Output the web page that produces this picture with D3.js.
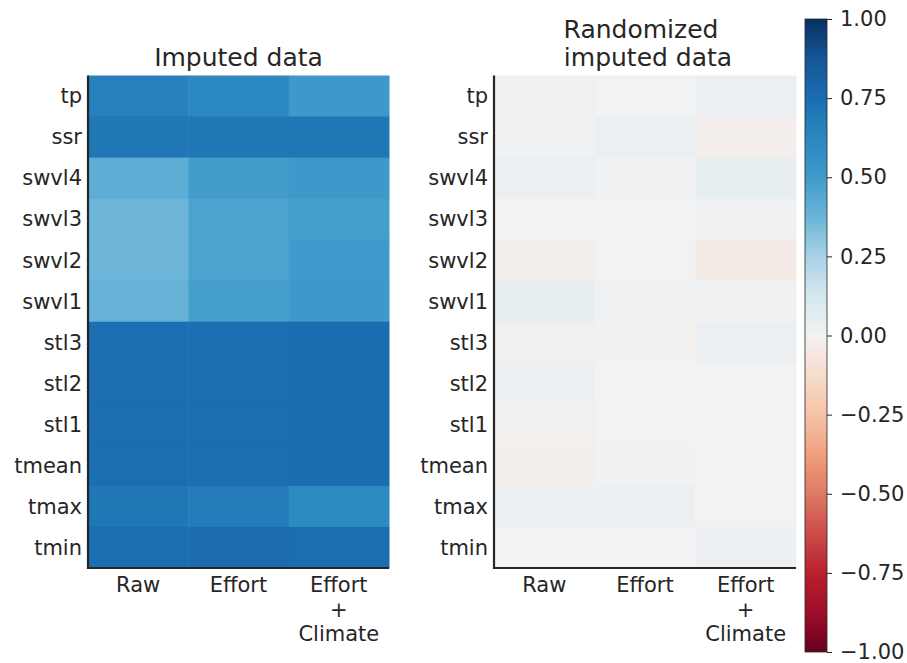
<!DOCTYPE html>
<html><head><meta charset="utf-8">
<script src="https://cdn.jsdelivr.net/npm/d3@7"></script>
<style>body{margin:0;background:#fff}text{font-family:"DejaVu Sans",sans-serif;fill:#262626}</style>
</head><body><svg id="c" width="907" height="663"></svg>
<script>
const rows = ["tp","ssr","swvl4","swvl3","swvl2","swvl1","stl3","stl2","stl1","tmean","tmax","tmin"];
const cols = ["Raw","Effort","Effort\n+\nClimate"];
// Imputed data (per column)
const impRaw    = [0.66,0.70,0.41,0.37,0.37,0.39,0.745,0.745,0.745,0.745,0.70,0.745];
const impEffort = [0.62,0.70,0.49,0.46,0.46,0.48,0.745,0.745,0.745,0.745,0.68,0.755];
const impEC     = [0.51,0.70,0.51,0.48,0.50,0.51,0.75,0.75,0.75,0.75,0.60,0.745];
// Randomized imputed data (per column)
const rndRaw    = [-0.01,0.01,0.03,0.00,-0.02,0.05,-0.01,0.02,-0.01,-0.02,0.02,0.00];
const rndEffort = [0.00,0.03,0.01,0.00,0.00,0.01,-0.005,0.00,0.00,0.01,0.03,0.00];
const rndEC     = [0.03,-0.02,0.05,0.01,-0.04,0.01,0.03,0.00,0.00,0.00,0.00,0.02];
const cbTicks = [1,0.75,0.5,0.25,0,-0.25,-0.5,-0.75,-1];
// diverging palette (red -> blue), sampled from the reference colour bar
const palette = ["#67001f","#a00c2b","#b9202f","#cc4c4a","#de7a63","#efa07f","#f6c3a6","#f7dccb","#f2f2f2",
                 "#d5e7f0","#a8d2e6","#6bb4d8","#3e9bcb","#2a87c0","#1a6db0","#175597","#053061"];

const svg = d3.select("#c");
const stops = palette.map((_,i)=>-1+i*2/(palette.length-1));
const color = d3.scaleLinear().domain(stops).range(palette).interpolate(d3.interpolateRgb).clamp(true);

function panel(x0, x1, dataCols, titleLines){
  const x = d3.scaleBand().domain(cols).range([x0,x1]);
  const y = d3.scaleBand().domain(rows).range([75.5,568]);
  const g = svg.append("g");
  const cells = [];
  cols.forEach((c,ci)=>rows.forEach((r,ri)=>cells.push({c,r,v:dataCols[ci][ri]})));
  g.selectAll("rect").data(cells).join("rect")
    .attr("x",d=>x(d.c)).attr("y",d=>y(d.r))
    .attr("width",x.bandwidth()+0.5).attr("height",y.bandwidth()+0.5)
    .attr("fill",d=>color(d.v));
  g.selectAll("text.yl").data(rows).join("text").attr("class","yl")
    .attr("x",x0-6).attr("y",r=>y(r)+y.bandwidth()/2).attr("dy","0.35em")
    .attr("text-anchor","end").style("font-size","21px").text(r=>r);
  cols.forEach(c=>{
    const t = g.append("text").attr("text-anchor","middle").style("font-size","21px");
    c.split("\n").forEach((ln,i)=>t.append("tspan").attr("x",x(c)+x.bandwidth()/2).attr("y",592+i*24.5).text(ln));
  });
  g.append("line").attr("x1",x0).attr("x2",x0).attr("y1",75.5).attr("y2",569).attr("stroke","#262626").attr("stroke-width",2.2);
  g.append("line").attr("x1",x0-1).attr("x2",x1).attr("y1",568).attr("y2",568).attr("stroke","#262626").attr("stroke-width",2.2);
  const cx = (x0+x1)/2;
  const n = titleLines.length;
  titleLines.forEach((ln,i)=>g.append("text").attr("x",cx+(n>1?(i===0?-4:3):0)).attr("y",66-(n-1-i)*28)
    .attr("text-anchor","middle").style("font-size","25px").text(ln));
}
panel(88,389,[impRaw,impEffort,impEC],["Imputed data"]);
panel(494,796,[rndRaw,rndEffort,rndEC],["Randomized","imputed data"]);

// colorbar
const cbY = d3.scaleLinear().domain([-1,1]).range([652,19]);
const cx0 = 805, cw = 22;
const defs = svg.append("defs");
const grad = defs.append("linearGradient").attr("id","cbg").attr("x1",0).attr("y1",1).attr("x2",0).attr("y2",0);
palette.forEach((p,i)=>grad.append("stop").attr("offset",i/(palette.length-1)).attr("stop-color",p));
svg.append("rect").attr("x",cx0).attr("y",cbY(1)).attr("width",cw).attr("height",cbY(-1)-cbY(1))
  .attr("fill","url(#cbg)").attr("stroke","#262626").attr("stroke-width",0.8);
const cbAxis = d3.axisRight(cbY).tickValues(cbTicks).tickFormat(d3.format(".2f")).tickSize(5).tickPadding(8);
const ag = svg.append("g").attr("transform",`translate(${cx0+cw},0)`).call(cbAxis);
ag.select(".domain").remove();
ag.selectAll(".tick line").attr("stroke","#262626").attr("stroke-width",1);
ag.selectAll(".tick text").style("font-size","21px").attr("fill","#262626").style("font-family","DejaVu Sans");
</script></body></html>
